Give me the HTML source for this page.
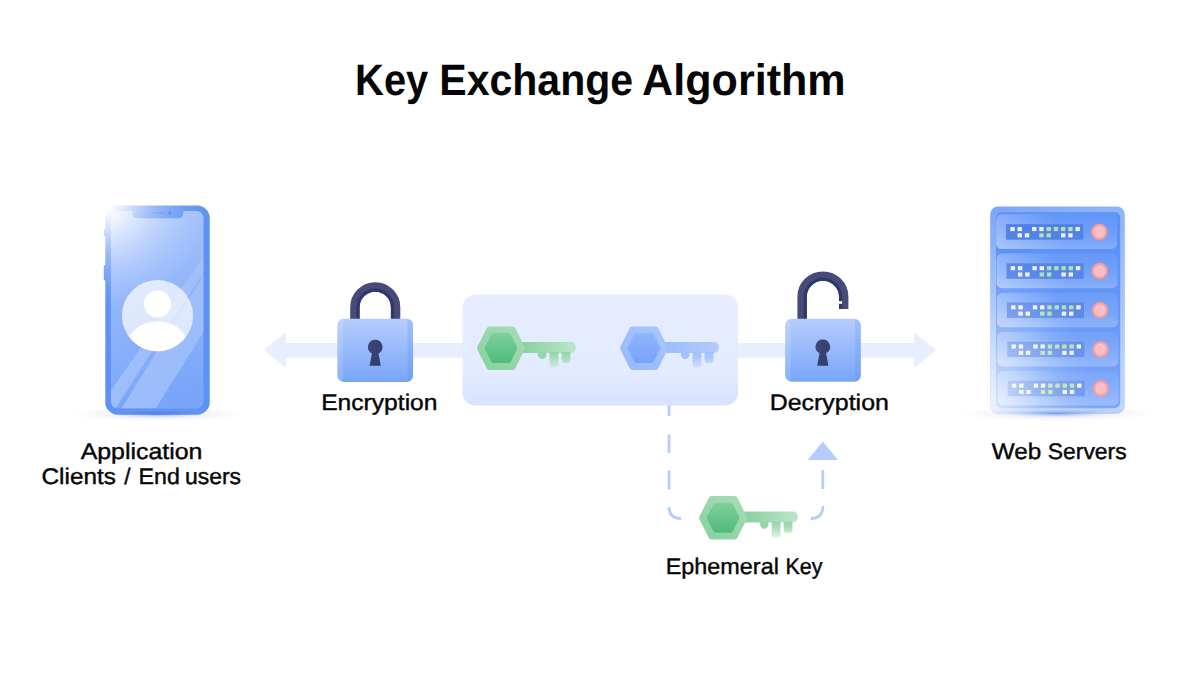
<!DOCTYPE html>
<html lang="en">
<head>
<meta charset="utf-8">
<title>Key Exchange Algorithm</title>
<style>
  html, body { margin: 0; padding: 0; background: #ffffff; }
  body { width: 1200px; height: 675px; overflow: hidden; position: relative; }
  svg { position: absolute; left: 0; top: 0; display: block; }
  text { font-family: "Liberation Sans", sans-serif; fill: #050505; text-rendering: geometricPrecision; }
  .title { font-weight: bold; font-size: 44px; }
  .label { font-size: 22.5px; stroke: #050505; stroke-width: 0.4px; }
</style>
</head>
<body>
<svg width="1200" height="675" viewBox="0 0 1200 675">
  <defs>
    <linearGradient id="gLock" x1="0" y1="0" x2="0" y2="1">
      <stop offset="0" stop-color="#b5cdfd"/>
      <stop offset="1" stop-color="#79a5f9"/>
    </linearGradient>
    <linearGradient id="gBox" x1="0" y1="0" x2="0" y2="1">
      <stop offset="0" stop-color="#e6edff"/>
      <stop offset="0.7" stop-color="#e3ebff"/>
      <stop offset="1" stop-color="#d6e2ff"/>
    </linearGradient>
    <linearGradient id="gScreen" x1="0" y1="0" x2="0.15" y2="1">
      <stop offset="0" stop-color="#a9c5fc"/>
      <stop offset="1" stop-color="#7aa6f9"/>
    </linearGradient>
    <radialGradient id="gGlow" gradientUnits="userSpaceOnUse" cx="104" cy="204" r="105">
      <stop offset="0" stop-color="#ffffff" stop-opacity="1"/>
      <stop offset="0.1" stop-color="#ffffff" stop-opacity="0.95"/>
      <stop offset="0.3" stop-color="#ffffff" stop-opacity="0.62"/>
      <stop offset="0.45" stop-color="#ffffff" stop-opacity="0.4"/>
      <stop offset="0.6" stop-color="#ffffff" stop-opacity="0.24"/>
      <stop offset="0.8" stop-color="#ffffff" stop-opacity="0.09"/>
      <stop offset="1" stop-color="#ffffff" stop-opacity="0"/>
    </radialGradient>
    <radialGradient id="gShadow" cx="0.5" cy="0.5" r="0.5">
      <stop offset="0" stop-color="#5a8af0" stop-opacity="0.55"/>
      <stop offset="0.5" stop-color="#8fb0f5" stop-opacity="0.25"/>
      <stop offset="1" stop-color="#ffffff" stop-opacity="0"/>
    </radialGradient>
    <linearGradient id="gGreenOut" gradientUnits="userSpaceOnUse" x1="15" y1="-22" x2="-15" y2="22">
      <stop offset="0" stop-color="#a6dbb6"/>
      <stop offset="1" stop-color="#88d1a0"/>
    </linearGradient>
    <linearGradient id="gGreenIn" gradientUnits="userSpaceOnUse" x1="0" y1="-15" x2="0" y2="15">
      <stop offset="0" stop-color="#80cf9a"/>
      <stop offset="1" stop-color="#4fbc7a"/>
    </linearGradient>
    <linearGradient id="gGreenShaft" gradientUnits="userSpaceOnUse" x1="20" y1="0" x2="75" y2="0">
      <stop offset="0" stop-color="#86d09e"/>
      <stop offset="1" stop-color="#bde5c9"/>
    </linearGradient>
    <linearGradient id="gGreenTooth" gradientUnits="userSpaceOnUse" x1="0" y1="4" x2="0" y2="20">
      <stop offset="0" stop-color="#93d6a8"/>
      <stop offset="0.35" stop-color="#a3dcb5" stop-opacity="0.95"/>
      <stop offset="1" stop-color="#b5e3c3" stop-opacity="0.45"/>
    </linearGradient>
    <linearGradient id="gBlueOut" gradientUnits="userSpaceOnUse" x1="15" y1="-22" x2="-15" y2="22">
      <stop offset="0" stop-color="#a8c5fd"/>
      <stop offset="1" stop-color="#97bafc"/>
    </linearGradient>
    <linearGradient id="gBlueIn" gradientUnits="userSpaceOnUse" x1="0" y1="-15" x2="0" y2="15">
      <stop offset="0" stop-color="#90b5fd"/>
      <stop offset="1" stop-color="#76a3fb"/>
    </linearGradient>
    <linearGradient id="gBlueShaft" gradientUnits="userSpaceOnUse" x1="20" y1="0" x2="75" y2="0">
      <stop offset="0" stop-color="#9bbcfd"/>
      <stop offset="1" stop-color="#b2cbfe"/>
    </linearGradient>
    <linearGradient id="gBlueTooth" gradientUnits="userSpaceOnUse" x1="0" y1="4" x2="0" y2="20">
      <stop offset="0" stop-color="#a2c1fd"/>
      <stop offset="0.35" stop-color="#a8c5fd" stop-opacity="0.95"/>
      <stop offset="1" stop-color="#b8cffe" stop-opacity="0.45"/>
    </linearGradient>
    <linearGradient id="gStripe" gradientUnits="userSpaceOnUse" x1="0" y1="255" x2="0" y2="409">
      <stop offset="0" stop-color="#ffffff" stop-opacity="0.1"/>
      <stop offset="1" stop-color="#ffffff" stop-opacity="0.26"/>
    </linearGradient>
    <linearGradient id="gServer" x1="0" y1="0" x2="0.3" y2="1">
      <stop offset="0" stop-color="#729ff8"/>
      <stop offset="0.25" stop-color="#85adfa"/>
      <stop offset="1" stop-color="#a9c5fd"/>
    </linearGradient>
    <linearGradient id="gSlot" gradientUnits="userSpaceOnUse" x1="0" y1="0" x2="0" y2="35">
      <stop offset="0" stop-color="#568df8"/>
      <stop offset="0.5" stop-color="#6094f8"/>
      <stop offset="1" stop-color="#78a5fa"/>
    </linearGradient>
    <linearGradient id="gSlotL" gradientUnits="userSpaceOnUse" x1="0" y1="30" x2="60" y2="5">
      <stop offset="0" stop-color="#ffffff" stop-opacity="0.3"/>
      <stop offset="1" stop-color="#ffffff" stop-opacity="0"/>
    </linearGradient>
    <radialGradient id="gLed" cx="0.5" cy="0.5" r="0.5">
      <stop offset="0" stop-color="#f8c3c9"/>
      <stop offset="0.3" stop-color="#f7b9c0"/>
      <stop offset="0.42" stop-color="#f8c3c9"/>
      <stop offset="0.62" stop-color="#f8c0c6"/>
      <stop offset="0.8" stop-color="#f89f9f"/>
      <stop offset="1" stop-color="#f89596"/>
    </radialGradient>
    <linearGradient id="gSrvFade" x1="0" y1="0" x2="0" y2="1">
      <stop offset="0" stop-color="#ffffff" stop-opacity="0.07"/>
      <stop offset="0.5" stop-color="#ffffff" stop-opacity="0.14"/>
      <stop offset="1" stop-color="#ffffff" stop-opacity="0.28"/>
    </linearGradient>
    <radialGradient id="gSrvGlow" gradientUnits="userSpaceOnUse" cx="0" cy="0" r="1" gradientTransform="translate(986 420) scale(105 175)">
      <stop offset="0" stop-color="#ffffff" stop-opacity="0.8"/>
      <stop offset="0.25" stop-color="#ffffff" stop-opacity="0.55"/>
      <stop offset="0.55" stop-color="#ffffff" stop-opacity="0.25"/>
      <stop offset="0.8" stop-color="#ffffff" stop-opacity="0.08"/>
      <stop offset="1" stop-color="#ffffff" stop-opacity="0"/>
    </radialGradient>
    <radialGradient id="gShadow2" cx="0.5" cy="0.5" r="0.5">
      <stop offset="0" stop-color="#3a6fe0" stop-opacity="0.6"/>
      <stop offset="0.25" stop-color="#4a7be2" stop-opacity="0.32"/>
      <stop offset="0.55" stop-color="#8aa3dc" stop-opacity="0.13"/>
      <stop offset="1" stop-color="#a8b8e0" stop-opacity="0"/>
    </radialGradient>
    <clipPath id="srvClip"><rect x="990.2" y="206.5" width="134.6" height="207.3" rx="8"/></clipPath>

    <!-- key shape, hex centre at 0,0 -->
    <g id="keyGreen">
      <rect x="18" y="-6.1" width="56.8" height="10.9" rx="5" fill="url(#gGreenShaft)"/>
      <path d="M37,4 h8.4 v2.8 a4.2,4.2 0 0 1 -8.4,0 Z" fill="#93d6a8"/>
      <path d="M48.6,4 h8.8 v12.5 a3,3 0 0 1 -3,3 h-2.8 a3,3 0 0 1 -3,-3 Z" fill="url(#gGreenTooth)"/>
      <path d="M60.6,4 h8.8 v8 a3,3 0 0 1 -3,3 h-2.8 a3,3 0 0 1 -3,-3 Z" fill="url(#gGreenTooth)"/>
      <path d="M-21,0.1 L-11.6,-18.6 L11.6,-18.6 L21,0.1 L11.6,18.8 L-11.6,18.8 Z" fill="url(#gGreenOut)" stroke="url(#gGreenOut)" stroke-width="6" stroke-linejoin="round"/>
      <path d="M-13.2,0 L-7.2,-12 L7.2,-12 L13.2,0 L7.2,12 L-7.2,12 Z" fill="url(#gGreenIn)" stroke="url(#gGreenIn)" stroke-width="6" stroke-linejoin="round"/>
    </g>
    <g id="keyBlue">
      <rect x="18" y="-6.1" width="56.8" height="10.9" rx="5" fill="url(#gBlueShaft)"/>
      <path d="M37,4 h8.4 v2.8 a4.2,4.2 0 0 1 -8.4,0 Z" fill="#a2c1fd"/>
      <path d="M48.6,4 h8.8 v12.5 a3,3 0 0 1 -3,3 h-2.8 a3,3 0 0 1 -3,-3 Z" fill="url(#gBlueTooth)"/>
      <path d="M60.6,4 h8.8 v8 a3,3 0 0 1 -3,3 h-2.8 a3,3 0 0 1 -3,-3 Z" fill="url(#gBlueTooth)"/>
      <path d="M-21,0.1 L-11.6,-18.6 L11.6,-18.6 L21,0.1 L11.6,18.8 L-11.6,18.8 Z" fill="url(#gBlueOut)" stroke="url(#gBlueOut)" stroke-width="6" stroke-linejoin="round"/>
      <path d="M-13.2,0 L-7.2,-12 L7.2,-12 L13.2,0 L7.2,12 L-7.2,12 Z" fill="url(#gBlueIn)" stroke="url(#gBlueIn)" stroke-width="6" stroke-linejoin="round"/>
    </g>
    <circle id="led" cx="103.3" cy="17.5" r="8.2" fill="url(#gLed)"/>
    <g id="slot">
      <rect x="0.2" y="0" width="120.8" height="34.6" rx="5.5" fill="url(#gSlot)"/>
      <rect x="0.2" y="0" width="120.8" height="34.6" rx="5.5" fill="url(#gSlotL)"/>
      <rect x="10.1" y="9.75" width="77.1" height="15.5" fill="#4176e6"/>
      <g fill="#eef0fb"><rect x="14.30" y="12.60" width="4.4" height="4.1"/><rect x="21.54" y="12.60" width="4.4" height="4.1"/><rect x="36.02" y="12.60" width="4.4" height="4.1"/><rect x="43.26" y="12.60" width="4.4" height="4.1"/><rect x="79.46" y="12.60" width="4.4" height="4.1"/><rect x="21.54" y="18.90" width="4.4" height="4.1"/><rect x="28.78" y="18.90" width="4.4" height="4.1"/><rect x="64.98" y="18.90" width="4.4" height="4.1"/><rect x="72.22" y="18.90" width="4.4" height="4.1"/></g>
      <g fill="#a9dca0"><rect x="50.50" y="12.60" width="4.4" height="4.1"/><rect x="57.74" y="12.60" width="4.4" height="4.1"/><rect x="64.98" y="12.60" width="4.4" height="4.1"/><rect x="72.22" y="12.60" width="4.4" height="4.1"/><rect x="43.26" y="18.90" width="4.4" height="4.1"/><rect x="50.50" y="18.90" width="4.4" height="4.1"/></g>
    </g>
    <clipPath id="lockClipA"><rect x="337.4" y="318.7" width="75.7" height="63.3" rx="6.5"/></clipPath>
    <clipPath id="lockClipB"><rect x="785.2" y="318.8" width="75.6" height="62.9" rx="6.5"/></clipPath>
    <linearGradient id="gHole" x1="0" y1="0" x2="1" y2="1">
      <stop offset="0" stop-color="#42457a"/>
      <stop offset="1" stop-color="#333b69"/>
    </linearGradient>
    <linearGradient id="gNotch" gradientUnits="userSpaceOnUse" x1="132" y1="0" x2="160" y2="0">
      <stop offset="0" stop-color="#94b5f9"/>
      <stop offset="1" stop-color="#6393f3"/>
    </linearGradient>
    <linearGradient id="gAvatar" x1="0.2" y1="0" x2="0.8" y2="1">
      <stop offset="0" stop-color="#e3ecfe"/>
      <stop offset="1" stop-color="#d5e2fd"/>
    </linearGradient>
    <clipPath id="screenClip"><rect x="110.9" y="210.9" width="92.6" height="197.6" rx="7"/></clipPath>
    <clipPath id="avatarClip"><circle cx="157.5" cy="315.7" r="35.6"/></clipPath>
  </defs>

  <!-- arrows -->
  <g fill="#e6eeff">
    <rect x="285" y="343" width="180" height="14.8"/>
    <path d="M263.9,350.1 L286,332.2 L286,368 Z"/>
    <rect x="736" y="343" width="179" height="14.8"/>
    <path d="M936,350.3 L914.1,332.4 L914.1,368.1 Z"/>
  </g>

  <!-- dashed line from box -->
  <path d="M669,400 L669,506.5 Q669,518.5 681,518.5" fill="none" stroke="#b7cdfc" stroke-width="2.8" stroke-dasharray="16 18.5 18.5 17.5 19 17.5 19 17 40 0"/>
  <!-- centre box -->
  <rect x="462.5" y="294.5" width="275.5" height="111" rx="13" fill="url(#gBox)"/>
  <use href="#keyGreen" x="501" y="348.1"/>
  <use href="#keyBlue" x="644" y="348.1"/>

  <!-- dashed path -->
  <path d="M822.8,470 L822.8,506.5 Q822.8,518.5 810.8,518.5" fill="none" stroke="#b7cdfc" stroke-width="2.8" stroke-dasharray="19 17 40 0"/>
  <path d="M822.8,441.6 L838,460 L807.6,460 Z" fill="#b5ccfc"/>
  <use href="#keyGreen" x="723.1" y="517.7"/>

  <!-- lock closed -->
  <g>
    <path d="M354.9,320 L354.9,307.3 A20.35,20.35 0 0 1 395.6,307.3 L395.6,320" fill="none" stroke="#484a79" stroke-width="9.4"/>
    <path d="M358,320 L358,307.3 A17.25,17.25 0 0 1 392.5,307.3 L392.5,320" fill="none" stroke="#2f3967" stroke-width="3.2"/>
    <rect x="337.4" y="318.7" width="75.7" height="63.3" rx="6.5" fill="url(#gLock)"/>
    <g clip-path="url(#lockClipA)">
      <rect x="337.4" y="318.7" width="5.6" height="63.3" fill="#ffffff" opacity="0.13"/>
      <rect x="407.5" y="318.7" width="5.6" height="63.3" fill="#3f74ea" opacity="0.16"/>
    </g>
    <path d="M375.2,339.8 a7.25,7.25 0 0 1 3.3,13.7 L380.8,365.7 L369.6,365.7 L371.9,353.4 a7.25,7.25 0 0 1 3.3,-13.7 Z" fill="url(#gHole)"/>
  </g>
  <!-- lock open -->
  <g>
    <path d="M802.1,320 L802.1,296.9 A20.8,20.8 0 0 1 843.7,296.9 L843.7,309" fill="none" stroke="#484a79" stroke-width="9.4"/>
    <path d="M805.2,320 L805.2,296.9 A17.7,17.7 0 0 1 840.6,296.9 L840.6,309" fill="none" stroke="#2f3967" stroke-width="3.2"/>
    <rect x="838.4" y="301.2" width="3.7" height="2.6" fill="#ffffff"/>
    <rect x="785.2" y="318.8" width="75.6" height="62.9" rx="6.5" fill="url(#gLock)"/>
    <g clip-path="url(#lockClipB)">
      <rect x="785.2" y="318.8" width="5.6" height="62.9" fill="#ffffff" opacity="0.13"/>
      <rect x="855.2" y="318.8" width="5.6" height="62.9" fill="#3f74ea" opacity="0.16"/>
    </g>
    <path d="M822.8,339.4 a7.25,7.25 0 0 1 3.3,13.7 L828.4,365.7 L817.2,365.7 L819.5,353.1 a7.25,7.25 0 0 1 3.3,-13.7 Z" fill="url(#gHole)"/>
  </g>

  <!-- phone -->
  <g>
    <rect x="103.8" y="228.5" width="4" height="8" rx="1.5" fill="#5e91f4"/>
    <rect x="103.8" y="265" width="4" height="15.5" rx="1.5" fill="#5e91f4"/>
    <rect x="105.3" y="205.5" width="104.4" height="209.2" rx="12.5" fill="#5e91f4"/>
    <rect x="110.9" y="210.9" width="92.6" height="197.6" rx="7" fill="url(#gScreen)"/>
    <path d="M132.3,209 L183.3,209 L183.3,213 Q183.3,218.3 178,218.3 L137.6,218.3 Q132.3,218.3 132.3,213 Z" fill="#5e91f4"/>
    <rect x="151" y="212.2" width="14" height="1.6" rx="0.8" fill="#4a7de6" opacity="0.8"/>
    <circle cx="169.7" cy="213" r="1.6" fill="#3d70dd"/>
    <rect x="100" y="200" width="110" height="115" fill="url(#gGlow)"/>
    <circle cx="157.5" cy="315.7" r="35.6" fill="url(#gAvatar)"/>
    <g clip-path="url(#avatarClip)" fill="#ffffff">
      <circle cx="157.5" cy="303.8" r="13.6"/>
      <circle cx="157.5" cy="355.4" r="34.2"/>
    </g>
    <g clip-path="url(#screenClip)" fill="url(#gStripe)">
      <path d="M204.2,255.8 L204.2,270.5 L115.5,408.6 L110.8,408.6 L110.8,391 Z"/>
      <path d="M204.2,275 L204.2,331 L155.6,408.6 L121.5,408.6 Z"/>
    </g>
    <ellipse cx="158" cy="414" rx="88" ry="7.5" fill="url(#gShadow2)"/>
  </g>

  <!-- server -->
  <g>
    <rect x="990.2" y="206.5" width="134.6" height="207.3" rx="8" fill="url(#gServer)"/>
    <rect x="996" y="212" width="124.2" height="196.3" rx="6" fill="#4b86f8"/>
    <rect x="996.2" y="212" width="120.8" height="10" rx="5" fill="#568df8"/>
    <use href="#slot" x="996.0" y="214.4"/>
    <use href="#slot" x="996.4" y="253.55"/>
    <use href="#slot" x="996.8" y="292.7"/>
    <use href="#slot" x="997.2" y="331.85"/>
    <use href="#slot" x="997.6" y="371"/>
    <rect x="990.2" y="206.5" width="134.6" height="207.3" rx="8" fill="url(#gSrvFade)"/>
    <rect x="990.2" y="206.5" width="134.6" height="207.3" fill="url(#gSrvGlow)" clip-path="url(#srvClip)"/>
    <use href="#led" x="996.0" y="214.4"/>
    <use href="#led" x="996.4" y="253.55"/>
    <use href="#led" x="996.8" y="292.7"/>
    <use href="#led" x="997.2" y="331.85"/>
    <use href="#led" x="997.6" y="371"/>
    <ellipse cx="1057" cy="413.5" rx="100" ry="7.5" fill="url(#gShadow2)"/>
  </g>

  <!-- text -->
  <text class="title" y="95.4"><tspan x="355.12" textLength="73.18" lengthAdjust="spacingAndGlyphs">Key</tspan> <tspan x="439.32" textLength="193.83" lengthAdjust="spacingAndGlyphs">Exchange</tspan> <tspan x="642.10" textLength="203.58" lengthAdjust="spacingAndGlyphs">Algorithm</tspan></text>
  <text class="label" y="459.4"><tspan x="80.68" textLength="121.78" lengthAdjust="spacingAndGlyphs">Application</tspan></text>
  <text class="label" y="484.3"><tspan x="41.50" textLength="74.38" lengthAdjust="spacingAndGlyphs">Clients</tspan> <tspan x="124.3">/</tspan> <tspan x="138.55" textLength="41.24" lengthAdjust="spacingAndGlyphs">End</tspan> <tspan x="184.90" textLength="56.13" lengthAdjust="spacingAndGlyphs">users</tspan></text>
  <text class="label" y="410.3"><tspan x="321.21" textLength="116.30" lengthAdjust="spacingAndGlyphs">Encryption</tspan></text>
  <text class="label" y="410.3"><tspan x="769.76" textLength="119.13" lengthAdjust="spacingAndGlyphs">Decryption</tspan></text>
  <text class="label" y="573.8"><tspan x="665.75" textLength="113.09" lengthAdjust="spacingAndGlyphs">Ephemeral</tspan> <tspan x="785.49" textLength="37.03" lengthAdjust="spacingAndGlyphs">Key</tspan></text>
  <text class="label" y="458.8"><tspan x="991.84" textLength="49.52" lengthAdjust="spacingAndGlyphs">Web</tspan> <tspan x="1047.79" textLength="78.86" lengthAdjust="spacingAndGlyphs">Servers</tspan></text>
</svg>
</body>
</html>
